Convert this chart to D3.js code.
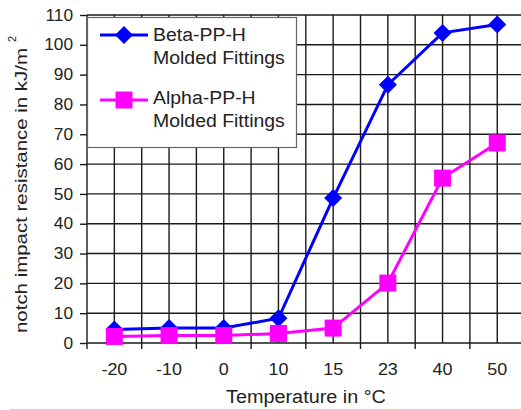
<!DOCTYPE html>
<html><head><meta charset="utf-8">
<script src="https://cdn.jsdelivr.net/npm/d3@7"></script>
<style>body{margin:0;background:#fff}svg{display:block}text{font-family:Arial,"Liberation Sans",sans-serif;fill:#222}</style>
</head><body><svg id="c" width="521" height="410"></svg>
<script>
const categories = ["-20","-10","0","10","15","23","40","50"];
const betaValues = [4.5, 5, 5, 8.3, 48.6, 86.6, 104, 106.8];
const alphaValues = [2.2, 2.5, 2.5, 3.2, 5, 20.1, 55.3, 67.1];
const yTicks = [0,10,20,30,40,50,60,70,80,90,100,110];
const seriesNames = [["Beta-PP-H","Molded Fittings"],["Alpha-PP-H","Molded Fittings"]];

const svg = d3.select("#c");
const L = 87, R = 524.6, T = 15, B = 343;
const x = d3.scaleBand().domain(categories).range([L, R]).padding(0);
const y = d3.scaleLinear().domain([0, 110]).range([B, T]);
const cx = c => x(c) + x.bandwidth()/2;

function stretch(sel, f){ sel.each(function(){ const l=this.getComputedTextLength(); this.setAttribute("textLength", l*f); this.setAttribute("lengthAdjust","spacingAndGlyphs"); }); }

// bottom gray line
svg.append("line").attr("x1",10).attr("x2",521).attr("y1",409.5).attr("y2",409.5).attr("stroke","#d0d0d0").attr("stroke-width",1);

// grid
const g = svg.append("g").attr("stroke","#1a1a1a").attr("stroke-width",1.4);
yTicks.forEach(v => g.append("line").attr("x1",L).attr("x2",R).attr("y1",y(v)).attr("y2",y(v)));
const vx = [];
categories.forEach(c => { vx.push(x(c)); vx.push(cx(c)); });
vx.push(R);
vx.forEach(v => g.append("line").attr("x1",v).attr("x2",v).attr("y1",T).attr("y2",B));

// y axis
const ya = svg.append("g").attr("transform",`translate(${L},0)`)
  .call(d3.axisLeft(y).tickValues(yTicks).tickSize(7).tickPadding(7));
ya.select(".domain").remove();
ya.selectAll("line").attr("stroke","#1a1a1a").attr("stroke-width",1.4);
ya.selectAll("text").attr("font-size",16).attr("fill","#222").attr("font-family","Arial, 'Liberation Sans', sans-serif");
stretch(ya.selectAll("text"), 1.08);

// x axis
const xa = svg.append("g").attr("transform",`translate(0,${B})`)
  .call(d3.axisBottom(x).tickSize(0).tickPadding(21));
xa.select(".domain").remove();
xa.selectAll("text").attr("font-size",16).attr("fill","#222").attr("font-family","Arial, 'Liberation Sans', sans-serif");
stretch(xa.selectAll("text"), 1.12);
categories.forEach(c => svg.append("line").attr("x1",x(c)).attr("x2",x(c)).attr("y1",B).attr("y2",B+6).attr("stroke","#1a1a1a").attr("stroke-width",1.4));

// series
const line = d3.line().x((d,i)=>cx(categories[i])).y(d=>y(d));
const diamond = (px,py,r)=>`M${px},${py-r}L${px+r},${py}L${px},${py+r}L${px-r},${py}Z`;
svg.append("path").attr("d",line(betaValues)).attr("fill","none").attr("stroke","#0000ff").attr("stroke-width",3);
svg.selectAll(".dm").data(betaValues).enter().append("path")
  .attr("d",(d,i)=>diamond(cx(categories[i]),y(d),9)).attr("fill","#0000ff");
svg.append("path").attr("d",line(alphaValues)).attr("fill","none").attr("stroke","#ff00ff").attr("stroke-width",3);
svg.selectAll(".sq").data(alphaValues).enter().append("rect")
  .attr("x",(d,i)=>cx(categories[i])-8.5).attr("y",d=>y(d)-8.5).attr("width",17).attr("height",17).attr("fill","#ff00ff");

// legend
svg.append("rect").attr("x",87.5).attr("y",17.5).attr("width",209).attr("height",130).attr("fill","#fff").attr("stroke","#666").attr("stroke-width",1.2);
const lg = svg.append("g");
lg.append("line").attr("x1",100).attr("x2",148).attr("y1",35).attr("y2",35).attr("stroke","#0000ff").attr("stroke-width",3);
lg.append("path").attr("d",diamond(124,35,9)).attr("fill","#0000ff");
lg.append("line").attr("x1",100).attr("x2",148).attr("y1",100).attr("y2",100).attr("stroke","#ff00ff").attr("stroke-width",3);
lg.append("rect").attr("x",115.5).attr("y",91.5).attr("width",17).attr("height",17).attr("fill","#ff00ff");
const lt = [[seriesNames[0][0],41],[seriesNames[0][1],64],[seriesNames[1][0],104],[seriesNames[1][1],127]];
lt.forEach(([t,by]) => lg.append("text").attr("x",153).attr("y",by).attr("font-size",18).text(t));
stretch(lg.selectAll("text"), 1.08);

// titles
const xt = svg.append("text").attr("x",306).attr("y",403).attr("text-anchor","middle").attr("font-size",18).text("Temperature in °C");
stretch(xt, 1.1);
const yt = svg.append("text").attr("transform","translate(27,333) rotate(-90)").attr("font-size",17).text("notch impact resistance in kJ/m");
yt.attr("textLength",285).attr("lengthAdjust","spacingAndGlyphs");
svg.append("text").attr("transform","translate(16,42) rotate(-90)").attr("font-size",11).text("2");
</script></body></html>
